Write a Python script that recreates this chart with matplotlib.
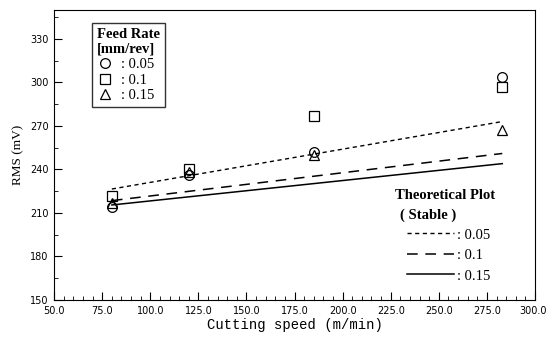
import numpy as np
import matplotlib.pyplot as plt
from matplotlib.lines import Line2D
from matplotlib.ticker import MultipleLocator, FuncFormatter

# measured points (cutting speed m/min, RMS mV)
speed = [80, 120, 185, 283]
rms_005 = [214, 236, 252, 304]
rms_01 = [221.5, 240.5, 277, 297]
rms_015 = [217, 238, 250, 267]

# theoretical (stable) lines, end points
theo_speed = [80, 283]
theo_005 = [226.5, 273]
theo_01 = [218.5, 251]
theo_015 = [215.5, 244]

fig = plt.figure(figsize=(5.47, 3.39), dpi=100)
ax = fig.add_axes([0.099, 0.115, 0.879, 0.856])

ls005 = (0, (3, 2.5))
ls01 = (0, (7, 5))
ax.plot(theo_speed, theo_005, color="black", lw=1.0, ls=ls005)
ax.plot(theo_speed, theo_01, color="black", lw=1.1, ls=ls01)
ax.plot(theo_speed, theo_015, color="black", lw=1.1, ls="-")

mk = dict(ls="none", mfc="none", mec="black", mew=0.9, ms=7)
ax.plot(speed, rms_005, marker="o", **mk)
ax.plot(speed, rms_01, marker="s", **mk)
ax.plot(speed, rms_015, marker="^", **mk)

ax.set_xlim(50, 300)
ax.set_ylim(150, 350)
ax.xaxis.set_major_locator(MultipleLocator(25))
ax.xaxis.set_minor_locator(MultipleLocator(5))
ax.yaxis.set_minor_locator(MultipleLocator(15))
ax.set_yticks(np.arange(150, 331, 30))
# the 300.0 label touches the figure edge, it is drawn separately below
ax.xaxis.set_major_formatter(FuncFormatter(lambda v, p: "" if v >= 299 else "%.1f" % v))
ax.tick_params(which="both", direction="in", labelsize=7, pad=4)
ax.tick_params(which="major", length=6)
ax.tick_params(which="minor", length=3)
ax.tick_params(axis="x", which="both", top=False)
ax.tick_params(axis="y", which="both", right=False)
fig.text(0.999, 0.115, "300.0", ha="right", va="top", fontsize=7,
         transform=fig.transFigure).set_y(0.115 - 6 / 339)

ax.set_xlabel("Cutting speed (m/min)", family="Liberation Mono", fontsize=10, labelpad=2)
ax.set_ylabel("RMS (mV)", family="Liberation Serif", fontsize=9.5, labelpad=4)

serif = {"family": "Liberation Serif", "size": 10.5}

h1 = [Line2D([], [], marker=m, **mk) for m in ["o", "s", "^"]]
leg1 = ax.legend(h1, [": 0.05", ": 0.1", ": 0.15"], loc="upper left",
                 bbox_to_anchor=(0.079, 0.955), borderaxespad=0,
                 title="Feed Rate\n[mm/rev]",
                 prop=serif, frameon=True, fancybox=False, edgecolor="black",
                 handlelength=1.1, handletextpad=0.5, borderpad=0.35,
                 labelspacing=0.15, alignment="left")
leg1.get_title().set_fontproperties(serif)
leg1.get_title().set_fontweight("bold")
leg1.get_frame().set_linewidth(1.0)
ax.add_artist(leg1)

h2 = [Line2D([], [], color="black", lw=1.0, ls=ls005),
      Line2D([], [], color="black", lw=1.1, ls=ls01),
      Line2D([], [], color="black", lw=1.1, ls="-")]
leg2 = ax.legend(h2, [": 0.05", ": 0.1", ": 0.15"], loc="upper left",
                 bbox_to_anchor=(0.734, 0.247), borderaxespad=0, borderpad=0,
                 prop=serif, frameon=False, handlelength=3.2,
                 handletextpad=0.2, labelspacing=0.5)
ax.text(0.709, 0.36, "Theoretical Plot", transform=ax.transAxes,
        va="center", ha="left", fontweight="bold", **serif)
ax.text(0.72, 0.293, "( Stable )", transform=ax.transAxes,
        va="center", ha="left", fontweight="bold", **serif)

fig.savefig("out.png", dpi=100)
